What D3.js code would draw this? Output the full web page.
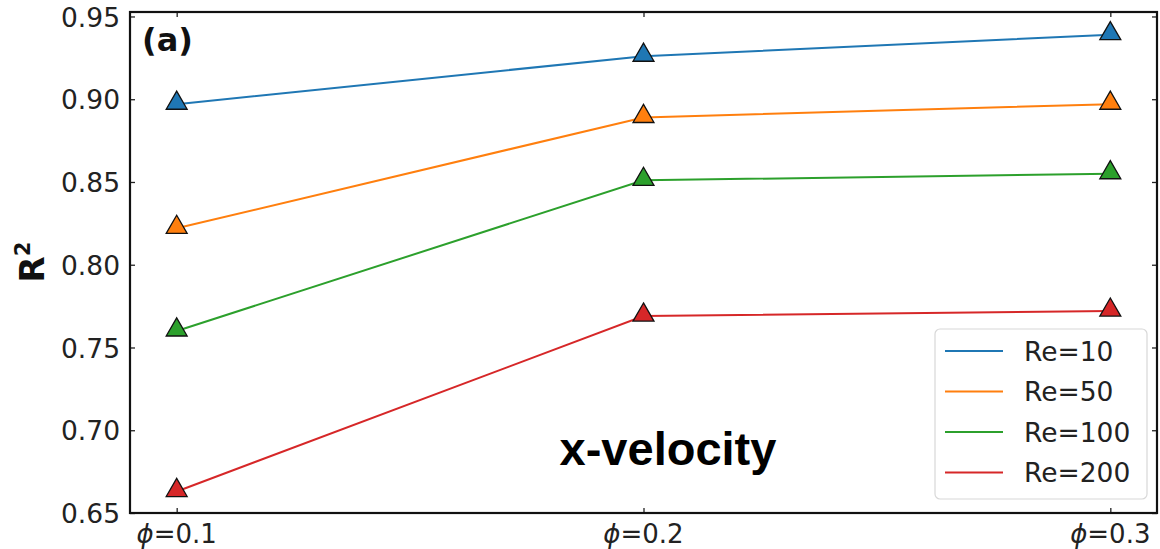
<!DOCTYPE html>
<html>
<head>
<meta charset="utf-8">
<script src="https://cdn.jsdelivr.net/npm/d3@7"></script>
<style>
  body { margin: 0; background: #fff; }
  svg { display: block; font-family: "DejaVu Sans", sans-serif; }
</style>
</head>
<body>
<div id="chart"></div>
<script>
var phis = [0.1, 0.2, 0.3];
var xTickLabels = ["=0.1", "=0.2", "=0.3"];
var yTicks = [0.65, 0.70, 0.75, 0.80, 0.85, 0.90, 0.95];
var seriesNames = ["Re=10", "Re=50", "Re=100", "Re=200"];
var seriesColors = ["#1f77b4", "#ff7f0e", "#2ca02c", "#d62728"];
var re10 = [0.897, 0.926, 0.939];
var re50 = [0.822, 0.889, 0.897];
var re100 = [0.760, 0.851, 0.855];
var re200 = [0.663, 0.769, 0.772];
var allSeries = [re10, re50, re100, re200];

var width = 1160, height = 549;
var margin = { top: 12, right: 3, bottom: 36, left: 130 };

var x = d3.scaleLinear().domain([0.09, 0.31]).range([margin.left, width - margin.right]);
var y = d3.scaleLinear().domain([0.65, 0.9527]).range([height - margin.bottom, margin.top]);

const svg = d3.select("#chart").append("svg")
    .attr("width", width)
    .attr("height", height);

// lines
var line = d3.line()
    .x((d, i) => x(phis[i]))
    .y(d => y(d));

svg.append("g")
    .selectAll("path")
    .data(allSeries)
    .join("path")
    .attr("fill", "none")
    .attr("stroke", (d, i) => seriesColors[i])
    .attr("stroke-width", 2)
    .attr("d", line);

// triangle markers
var tri = d3.symbol().type(d3.symbolTriangle).size(190);
allSeries.forEach(function (s, k) {
    svg.append("g")
        .selectAll("path")
        .data(s)
        .join("path")
        .attr("transform", (d, i) => `translate(${x(phis[i])},${y(d) - 1})`)
        .attr("d", tri)
        .attr("fill", seriesColors[k])
        .attr("stroke", "#111")
        .attr("stroke-width", 1.3);
});

// axes, ticks inward on all four sides
var leftAxis = svg.append("g")
    .attr("transform", `translate(${margin.left},0)`)
    .call(d3.axisLeft(y).tickValues(yTicks).tickFormat(d3.format(".2f")).tickSizeInner(-5).tickSizeOuter(0).tickPadding(10));
leftAxis.select(".domain").remove();
leftAxis.attr("font-family", "DejaVu Sans");
leftAxis.selectAll("text").attr("font-size", 26.5).attr("fill", "#222").attr("dy", "0.36em");

var rightAxis = svg.append("g")
    .attr("transform", `translate(${width - margin.right},0)`)
    .call(d3.axisRight(y).tickValues(yTicks).tickSizeInner(-5).tickSizeOuter(0).tickFormat(""));
rightAxis.select(".domain").remove();

var bottomAxis = svg.append("g")
    .attr("transform", `translate(0,${height - margin.bottom})`)
    .call(d3.axisBottom(x).tickValues(phis).tickSizeInner(-5).tickSizeOuter(0).tickFormat(""));
bottomAxis.select(".domain").remove();

var topAxis = svg.append("g")
    .attr("transform", `translate(0,${margin.top})`)
    .call(d3.axisTop(x).tickValues(phis).tickSizeInner(-5).tickSizeOuter(0).tickFormat(""));
topAxis.select(".domain").remove();

svg.selectAll(".tick line").attr("stroke", "#222").attr("stroke-width", 1.3);

// x tick labels with italic phi
svg.append("g")
    .selectAll("text")
    .data(phis)
    .join("text")
    .attr("x", d => x(d))
    .attr("y", height - 6)
    .attr("text-anchor", "middle")
    .attr("font-size", 26)
    .attr("fill", "#222")
    .call(t => t.append("tspan").attr("font-style", "italic").text("\u03D5"))
    .call(t => t.append("tspan").text((d, i) => xTickLabels[i]));

// frame
svg.append("rect")
    .attr("x", margin.left)
    .attr("y", margin.top)
    .attr("width", width - margin.left - margin.right)
    .attr("height", height - margin.top - margin.bottom)
    .attr("fill", "none")
    .attr("stroke", "#111")
    .attr("stroke-width", 2.2);

// y label
svg.append("text")
    .attr("transform", `translate(44,262) rotate(-90)`)
    .attr("text-anchor", "middle")
    .attr("font-size", 34)
    .attr("font-weight", "bold")
    .attr("fill", "#111")
    .call(t => t.append("tspan").text("R"))
    .call(t => t.append("tspan").attr("font-size", 21).attr("dy", -14).text("2"));

// panel label
svg.append("text")
    .attr("x", 142)
    .attr("y", 51)
    .attr("font-size", 32)
    .attr("font-weight", "bold")
    .attr("fill", "#111")
    .text("(a)");

svg.append("text")
    .attr("x", 668)
    .attr("y", 465)
    .attr("text-anchor", "middle")
    .attr("font-family", "Liberation Sans, Arial, sans-serif")
    .attr("font-size", 47)
    .attr("font-weight", "bold")
    .attr("fill", "#000")
    .text("x-velocity");

// legend
var lg = svg.append("g").attr("transform", "translate(935,329)");
lg.append("rect")
    .attr("width", 212)
    .attr("height", 170)
    .attr("rx", 5)
    .attr("fill", "#fff")
    .attr("fill-opacity", 0.85)
    .attr("stroke", "#d8d8d8")
    .attr("stroke-width", 1.2);

var rows = lg.selectAll("g.row")
    .data(seriesNames)
    .join("g")
    .attr("class", "row")
    .attr("transform", (d, i) => `translate(0,${22 + i * 40.5})`);

rows.append("line")
    .attr("x1", 10).attr("x2", 68)
    .attr("stroke", (d, i) => seriesColors[i])
    .attr("stroke-width", 2);

rows.append("text")
    .attr("x", 89)
    .attr("dy", "0.36em")
    .attr("font-size", 26.5)
    .attr("fill", "#222")
    .text(d => d);
</script>
</body>
</html>
